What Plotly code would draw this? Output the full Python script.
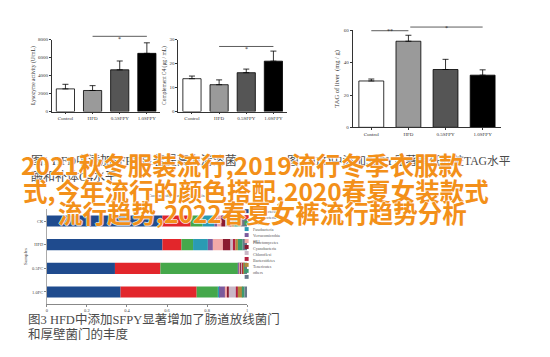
import plotly.graph_objects as go

W, H = 550, 357
def px(x): return x / W
def py(y): return 1 - y / H

# ---------------- data ----------------
groups = ["Control", "HFD", "0.5SFPY", "1.0SFPY"]
bar_colors = ["#ffffff", "#9a9a9a", "#555555", "#000000"]

lysozyme = [2520, 2340, 4640, 6470]
lysozyme_err = [510, 540, 980, 1170]

complement = [13.7, 11.2, 16.2, 21.0]
complement_err = [1.1, 2.0, 1.5, 4.2]

tag_liver = [28.7, 53.3, 35.8, 32.3]
tag_err = [1.2, 3.7, 6.3, 3.3]

samples = ["CK", "HFD", "0.5FC", "1.0FC"]
phyla = ["Actinobacteria", "Proteobacteria", "Firmicutes", "Fusobacteria",
         "Verrucomicrobia", "SR1", "Planctomycetes", "Cyanobacteria",
         "Chloroflexi", "Bacteroidetes", "Tenericutes", "others"]
phyla_colors = ["#1f4b8e", "#e2262b", "#45a84b", "#2a9bb3", "#7b5a9c", "#f2aaa8",
                "#8a1b30", "#c9b7c6", "#b3203f", "#b2893a", "#3d9b6e", "#67788a"]
abundance = {
    "CK":    [0.577, 0.141, 0.060, 0.058, 0.015, 0.020, 0.020, 0.015, 0.015, 0.015, 0.030, 0.034],
    "HFD":   [0.577, 0.095, 0.058, 0.074, 0.025, 0.050, 0.038, 0.012, 0.013, 0.012, 0.024, 0.022],
    "0.5FC": [0.340, 0.227, 0.387, 0.004, 0.004, 0.004, 0.003, 0.008, 0.003, 0.004, 0.004, 0.012],
    "1.0FC": [0.368, 0.380, 0.106, 0.006, 0.030, 0.009, 0.010, 0.036, 0.009, 0.024, 0.009, 0.013],
}
x_ticks = [0, 0.2, 0.4, 0.6, 0.8, 1]
x_tick_text = ["0", "0.2", "0.4", "0.6", "0.8", "1"]

SERIF = "Liberation Serif, Noto Sans CJK SC"
fig = go.Figure()

# ---------------- three top bar charts ----------------
panels = [
    ("x", "y", lysozyme, lysozyme_err),
    ("x2", "y2", complement, complement_err),
    ("x3", "y3", tag_liver, tag_err),
]
for xa, ya, vals, errs in panels:
    fig.add_trace(go.Bar(
        x=groups, y=vals, xaxis=xa, yaxis=ya, width=0.67,
        marker=dict(color=bar_colors, line=dict(color="#000000", width=0.8)),
        error_y=dict(type="data", array=errs, arrayminus=[0]*len(errs),
                     symmetric=False, color="#000000", thickness=0.8, width=3),
        showlegend=False, hoverinfo="skip"))

# ---------------- stacked horizontal bar ----------------
for i, name in enumerate(phyla):
    fig.add_trace(go.Bar(
        y=samples, x=[abundance[s][i] for s in samples], orientation="h",
        xaxis="x4", yaxis="y4", name=name, width=0.47,
        marker=dict(color=phyla_colors[i], line=dict(width=0)),
        showlegend=False, hoverinfo="skip"))

tickfont = dict(family=SERIF, size=5, color="#333")
axcommon = dict(showline=True, linecolor="#333", linewidth=0.8, ticks="outside",
                ticklen=2, tickcolor="#333", tickwidth=0.6, showgrid=False,
                zeroline=False, tickfont=tickfont)

fig.update_layout(
    width=W, height=H, margin=dict(l=0, r=0, t=0, b=0),
    paper_bgcolor="white", plot_bgcolor="white", barmode="relative",
    xaxis=dict(domain=[px(43), px(152)], anchor="y", range=[-0.5, 3.5], **axcommon),
    yaxis=dict(domain=[py(103), py(30)], anchor="x", range=[0, 8000],
               tickvals=[0, 2000, 4000, 6000, 8000],
               title=dict(text="Lysozyme activity (U/mL)", standoff=2,
                          font=dict(family=SERIF, size=5.5, color="#333")), **axcommon),
    xaxis2=dict(domain=[px(170), px(279)], anchor="y2", range=[-0.5, 3.5], **axcommon),
    yaxis2=dict(domain=[py(103), py(30)], anchor="x2", range=[0, 30],
                tickvals=[0, 10, 20, 30],
                title=dict(text="Complement C4 (μg / mL)", standoff=2,
                           font=dict(family=SERIF, size=5.5, color="#333")), **axcommon),
    xaxis3=dict(domain=[px(345), px(494)], anchor="y3", range=[-0.5, 3.5], **axcommon),
    yaxis3=dict(domain=[py(119), py(20.7)], anchor="x3", range=[0, 60],
                tickvals=[0, 20, 40, 60],
                title=dict(text="TAG of liver  (mg / g)", standoff=3,
                           font=dict(family=SERIF, size=6.5, color="#333")), **axcommon),
    xaxis4=dict(domain=[px(38), px(239)], anchor="y4", range=[0, 1],
                tickvals=x_ticks, ticktext=x_tick_text,
                showline=True, linecolor="#888", linewidth=0.6, ticks="outside",
                ticklen=2, tickcolor="#888", showgrid=False, zeroline=False,
                tickfont=dict(family=SERIF, size=4.5, color="#444")),
    yaxis4=dict(domain=[py(298), py(202)], anchor="x4", autorange="reversed",
                showline=True, linecolor="#aaa", linewidth=0.5, ticks="outside",
                ticklen=2, tickcolor="#888", showgrid=False, zeroline=False,
                tickfont=dict(family=SERIF, size=4.5, color="#444"),
                title=dict(text="Samples", standoff=4,
                           font=dict(family=SERIF, size=5, color="#444"))),
)

# significance markers
sig = [
    ("x", 1, 3, 26.7, "*", 24.5),
    ("x2", 1, 3, 37, "*", 34.5),
    ("x3", 0, 1, 21, "**", 16.5),
    ("x3", 1.05, 3, 17.3, "*", 13),
]
for xa, a, b, yy, star, ys in sig:
    fig.add_shape(type="line", xref=xa, yref="paper", x0=a, x1=b, y0=py(yy), y1=py(yy),
                  line=dict(color="#333", width=0.8))
    fig.add_annotation(xref=xa, yref="paper", x=(a + b) / 2, y=py(ys), text=star,
                       showarrow=False, font=dict(family=SERIF, size=6, color="#222"))

# stacked-chart title
fig.add_annotation(xref="paper", yref="paper", x=px(138), y=py(188),
                   text="Community barplot analysis", showarrow=False,
                   font=dict(family=SERIF, size=5, color="#444"))

# manual legend for stacked chart
for i, (name, col) in enumerate(zip(phyla, phyla_colors)):
    yc = 204 + i * 6.06
    fig.add_shape(type="rect", xref="paper", yref="paper",
                  x0=px(236.5), x1=px(240.5), y0=py(yc + 2), y1=py(yc - 2),
                  fillcolor=col, line=dict(width=0))
    fig.add_annotation(xref="paper", yref="paper", x=px(243), y=py(yc), xanchor="left",
                       text=name, showarrow=False,
                       font=dict(family=SERIF, size=4, color="#555"))

# captions
captions = [
    (20, 152.7, "图1 HFD中添加SFPY显著提高血清溶菌", 12),
    (20, 169, "酶和补体C4水平", 12),
    (277, 152.7, "图2 HFD中添加SFPY显著降低肝脏TAG水平", 11.7),
    (17, 324, "图3 HFD中添加SFPY显著增加了肠道放线菌门", 12.5),
    (17, 339, "和厚壁菌门的丰度", 12.5),
]
for x0, y0, t, fs in captions:
    fig.add_annotation(xref="paper", yref="paper", x=px(x0), y=py(y0), xanchor="left",
                       text=t, showarrow=False,
                       font=dict(family=SERIF, size=fs, color="#4a4a4a"))

# orange overlay title
orange_lines = [
    (10, 157, "2021秋冬服装流行,2019流行冬季衣服款"),
    (12, 183, "式,今年流行的颜色搭配,2020春夏女装款式"),
    (47, 205, "流行趋势,2022春夏女裤流行趋势分析"),
]
for x0, y0, t in orange_lines:
    fig.add_annotation(xref="paper", yref="paper", x=px(x0), y=py(y0), xanchor="left",
                       yanchor="middle", text=t, showarrow=False,
                       font=dict(family="Noto Sans CJK SC", size=24.5, color="#f39019",
                                 weight=700,
                                 shadow="1px 0 0 rgba(255,255,255,0.7), -1px 0 0 rgba(255,255,255,0.7), 0 1px 0 rgba(255,255,255,0.7), 0 -1px 0 rgba(255,255,255,0.7)"))

fig.write_html("out.html")
